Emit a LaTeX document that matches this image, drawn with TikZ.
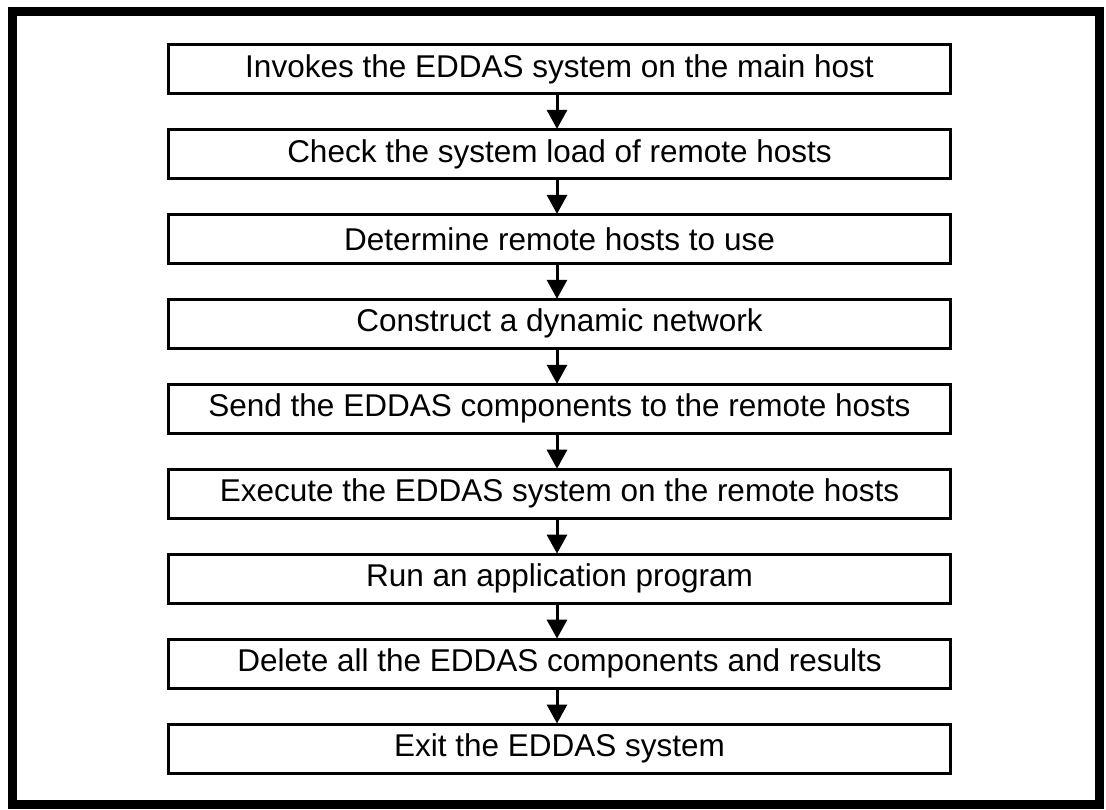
\documentclass[tikz,border=0pt]{standalone}
\usepackage{fontspec}
\setmainfont{Liberation Sans}
\usetikzlibrary{arrows.meta}
\begin{document}
\begin{tikzpicture}[x=1pt,y=-1pt,
  stepbox/.style={draw=black, line width=3pt, fill=white,
    minimum width=782pt, minimum height=49pt, inner sep=0pt,
    font=\fontsize{31.5}{37}\selectfont},
  flow/.style={line width=3pt, -{Triangle[length=19pt,width=20pt]}, shorten >=-1pt}
]
\useasboundingbox (0,0) rectangle (1106,809);
% outer frame
\draw[line width=9pt] (12.5,11.5) rectangle (1099.5,804.5);
% steps
\node[stepbox] (s1) at (559.5, 69.0) {Invokes the EDDAS system on the main host};
\node[stepbox] (s2) at (559.5,153.9) {Check the system load of remote hosts};
\node[stepbox] (s3) at (559.5,238.9) {Determine remote hosts to use};
\node[stepbox] (s4) at (559.5,323.8) {Construct a dynamic network};
\node[stepbox] (s5) at (559.5,408.8) {Send the EDDAS components to the remote hosts};
\node[stepbox] (s6) at (559.5,493.7) {Execute the EDDAS system on the remote hosts};
\node[stepbox] (s7) at (559.5,578.6) {Run an application program};
\node[stepbox] (s8) at (559.5,663.6) {Delete all the EDDAS components and results};
\node[stepbox] (s9) at (559.5,748.5) {Exit the EDDAS system};
% connectors
\foreach \a/\b in {s1/s2,s2/s3,s3/s4,s4/s5,s5/s6,s6/s7,s7/s8,s8/s9}
  \draw[flow] ([xshift=-2.5pt]\a.south) -- ([xshift=-2.5pt]\b.north);
\end{tikzpicture}
\end{document}
